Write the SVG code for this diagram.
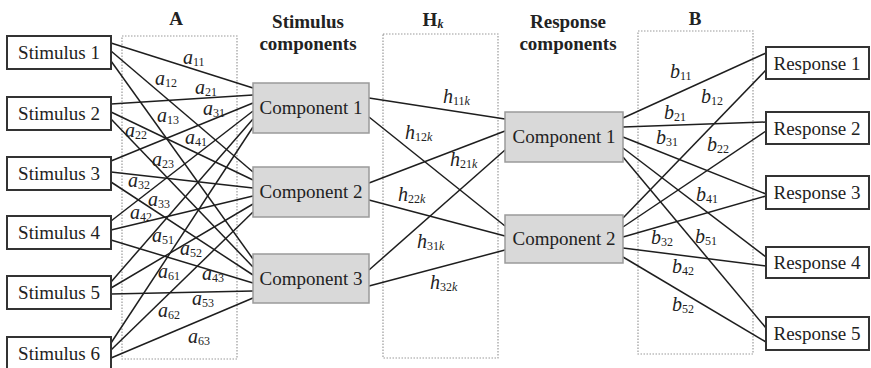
<svg xmlns="http://www.w3.org/2000/svg" width="871" height="368" viewBox="0 0 871 368" font-family="'Liberation Serif','Times New Roman','DejaVu Serif',serif">
<style>
.bg{fill:#fff}
.sbox{fill:#fff;stroke:#333;stroke-width:2}
.cbox{fill:#d9d9d9;stroke:#9a9a9a;stroke-width:1.5}
.dot{fill:none;stroke:#9a9a9a;stroke-width:1.2;stroke-dasharray:1.5 1.5}
text{font-family:'Liberation Serif','Times New Roman','DejaVu Serif',serif}
.t{font-size:19px;fill:#222}
.h{font-size:19px;font-weight:bold;fill:#222;text-anchor:middle}
.lab{font-size:20px;font-style:italic;fill:#222}
.sub{font-size:12px;font-style:normal}
.subi{font-size:12px;font-style:italic}
#connectors line{stroke:#1e1e1e;stroke-width:1.5}
</style>
<rect class="bg" x="0" y="0" width="871" height="368"/>

<g id="matrixA"><rect class="dot" x="122" y="36" width="115" height="323"/><text class="h" x="176" y="25">A</text></g>
<g id="matrixH"><rect class="dot" x="383" y="34" width="115" height="324"/><text class="h" x="433" y="26">H<tspan class="subi" dy="2">k</tspan></text></g>
<g id="matrixB"><rect class="dot" x="638" y="31" width="115" height="323"/><text class="h" x="695" y="25">B</text></g>

<g id="hdr-stim"><text class="h" x="308" y="28">Stimulus</text><text class="h" x="308" y="50">components</text></g>
<g id="hdr-resp"><text class="h" x="568" y="28">Response</text><text class="h" x="568" y="50">components</text></g>

<g id="connectors">
<line x1="111" y1="43" x2="253" y2="88"/>
<line x1="111" y1="51" x2="253" y2="172"/>
<line x1="111" y1="61" x2="253" y2="259"/>
<line x1="111" y1="104" x2="253" y2="95"/>
<line x1="111" y1="112" x2="253" y2="180"/>
<line x1="111" y1="119" x2="253" y2="267"/>
<line x1="111" y1="161" x2="253" y2="103"/>
<line x1="111" y1="172" x2="253" y2="188"/>
<line x1="111" y1="182" x2="253" y2="275"/>
<line x1="111" y1="221" x2="253" y2="111"/>
<line x1="111" y1="230" x2="253" y2="196"/>
<line x1="111" y1="240" x2="253" y2="283"/>
<line x1="111" y1="282" x2="253" y2="119"/>
<line x1="111" y1="288" x2="253" y2="204"/>
<line x1="111" y1="294" x2="253" y2="291"/>
<line x1="111" y1="343" x2="253" y2="127"/>
<line x1="111" y1="350" x2="253" y2="212"/>
<line x1="111" y1="358" x2="253" y2="298"/>
<line x1="369" y1="98" x2="505" y2="119"/>
<line x1="369" y1="117" x2="505" y2="226"/>
<line x1="369" y1="183" x2="505" y2="131"/>
<line x1="369" y1="200" x2="505" y2="236"/>
<line x1="369" y1="270" x2="505" y2="150"/>
<line x1="369" y1="286" x2="505" y2="250"/>
<line x1="623" y1="118" x2="766" y2="53"/>
<line x1="623" y1="127" x2="766" y2="122"/>
<line x1="623" y1="137" x2="766" y2="194"/>
<line x1="623" y1="148" x2="766" y2="257"/>
<line x1="623" y1="157" x2="766" y2="328"/>
<line x1="623" y1="218" x2="766" y2="70"/>
<line x1="623" y1="227" x2="766" y2="131"/>
<line x1="623" y1="237" x2="766" y2="196"/>
<line x1="623" y1="248" x2="766" y2="266"/>
<line x1="623" y1="257" x2="766" y2="342"/>
</g>

<g id="stim1"><rect class="sbox" x="7" y="36" width="104" height="33"/><text class="t" x="59" y="59" text-anchor="middle">Stimulus 1</text></g>
<g id="stim2"><rect class="sbox" x="7" y="97" width="104" height="33"/><text class="t" x="59" y="120" text-anchor="middle">Stimulus 2</text></g>
<g id="stim3"><rect class="sbox" x="7" y="157" width="104" height="33"/><text class="t" x="59" y="180" text-anchor="middle">Stimulus 3</text></g>
<g id="stim4"><rect class="sbox" x="7" y="216" width="104" height="33"/><text class="t" x="59" y="239" text-anchor="middle">Stimulus 4</text></g>
<g id="stim5"><rect class="sbox" x="7" y="276" width="104" height="33"/><text class="t" x="59" y="299" text-anchor="middle">Stimulus 5</text></g>
<g id="stim6"><rect class="sbox" x="7" y="337" width="104" height="33"/><text class="t" x="59" y="360" text-anchor="middle">Stimulus 6</text></g>

<g id="scomp1"><rect class="cbox" x="253" y="83" width="116" height="50"/><text class="t" x="311" y="114" text-anchor="middle">Component 1</text></g>
<g id="scomp2"><rect class="cbox" x="253" y="167" width="116" height="50"/><text class="t" x="311" y="198" text-anchor="middle">Component 2</text></g>
<g id="scomp3"><rect class="cbox" x="253" y="254" width="116" height="49"/><text class="t" x="311" y="285" text-anchor="middle">Component 3</text></g>

<g id="rcomp1"><rect class="cbox" x="505" y="112" width="118" height="50"/><text class="t" x="564" y="143" text-anchor="middle">Component 1</text></g>
<g id="rcomp2"><rect class="cbox" x="505" y="215" width="118" height="48"/><text class="t" x="564" y="245" text-anchor="middle">Component 2</text></g>

<g id="resp1"><rect class="sbox" x="766" y="47" width="103" height="32"/><text class="t" x="817" y="70" text-anchor="middle">Response 1</text></g>
<g id="resp2"><rect class="sbox" x="766" y="112" width="103" height="32"/><text class="t" x="817" y="135" text-anchor="middle">Response 2</text></g>
<g id="resp3"><rect class="sbox" x="766" y="176" width="103" height="33"/><text class="t" x="817" y="199" text-anchor="middle">Response 3</text></g>
<g id="resp4"><rect class="sbox" x="766" y="247" width="103" height="31"/><text class="t" x="817" y="269" text-anchor="middle">Response 4</text></g>
<g id="resp5"><rect class="sbox" x="766" y="317" width="103" height="33"/><text class="t" x="817" y="340" text-anchor="middle">Response 5</text></g>

<g id="labelsA">
<text class="lab" x="183" y="64">a<tspan class="sub" dy="2">11</tspan></text>
<text class="lab" x="155" y="85">a<tspan class="sub" dy="2">12</tspan></text>
<text class="lab" x="195" y="94">a<tspan class="sub" dy="2">21</tspan></text>
<text class="lab" x="203" y="115">a<tspan class="sub" dy="2">31</tspan></text>
<text class="lab" x="157" y="122">a<tspan class="sub" dy="2">13</tspan></text>
<text class="lab" x="125" y="137">a<tspan class="sub" dy="2">22</tspan></text>
<text class="lab" x="185" y="144">a<tspan class="sub" dy="2">41</tspan></text>
<text class="lab" x="152" y="166">a<tspan class="sub" dy="2">23</tspan></text>
<text class="lab" x="128" y="187">a<tspan class="sub" dy="2">32</tspan></text>
<text class="lab" x="148" y="206">a<tspan class="sub" dy="2">33</tspan></text>
<text class="lab" x="130" y="219">a<tspan class="sub" dy="2">42</tspan></text>
<text class="lab" x="152" y="242">a<tspan class="sub" dy="2">51</tspan></text>
<text class="lab" x="180" y="255">a<tspan class="sub" dy="2">52</tspan></text>
<text class="lab" x="158" y="278">a<tspan class="sub" dy="2">61</tspan></text>
<text class="lab" x="202" y="280">a<tspan class="sub" dy="2">43</tspan></text>
<text class="lab" x="192" y="305">a<tspan class="sub" dy="2">53</tspan></text>
<text class="lab" x="158" y="317">a<tspan class="sub" dy="2">62</tspan></text>
<text class="lab" x="188" y="343">a<tspan class="sub" dy="2">63</tspan></text>
</g>

<g id="labelsH">
<text class="lab" x="443" y="103">h<tspan class="sub" dy="2">11</tspan><tspan class="subi">k</tspan></text>
<text class="lab" x="405" y="139">h<tspan class="sub" dy="2">12</tspan><tspan class="subi">k</tspan></text>
<text class="lab" x="450" y="166">h<tspan class="sub" dy="2">21</tspan><tspan class="subi">k</tspan></text>
<text class="lab" x="398" y="201">h<tspan class="sub" dy="2">22</tspan><tspan class="subi">k</tspan></text>
<text class="lab" x="417" y="248">h<tspan class="sub" dy="2">31</tspan><tspan class="subi">k</tspan></text>
<text class="lab" x="430" y="289">h<tspan class="sub" dy="2">32</tspan><tspan class="subi">k</tspan></text>
</g>

<g id="labelsB">
<text class="lab" x="670" y="78">b<tspan class="sub" dy="2">11</tspan></text>
<text class="lab" x="701" y="103">b<tspan class="sub" dy="2">12</tspan></text>
<text class="lab" x="664" y="119">b<tspan class="sub" dy="2">21</tspan></text>
<text class="lab" x="656" y="144">b<tspan class="sub" dy="2">31</tspan></text>
<text class="lab" x="707" y="151">b<tspan class="sub" dy="2">22</tspan></text>
<text class="lab" x="696" y="201">b<tspan class="sub" dy="2">41</tspan></text>
<text class="lab" x="651" y="244">b<tspan class="sub" dy="2">32</tspan></text>
<text class="lab" x="695" y="243">b<tspan class="sub" dy="2">51</tspan></text>
<text class="lab" x="672" y="273">b<tspan class="sub" dy="2">42</tspan></text>
<text class="lab" x="672" y="311">b<tspan class="sub" dy="2">52</tspan></text>
</g>
</svg>
